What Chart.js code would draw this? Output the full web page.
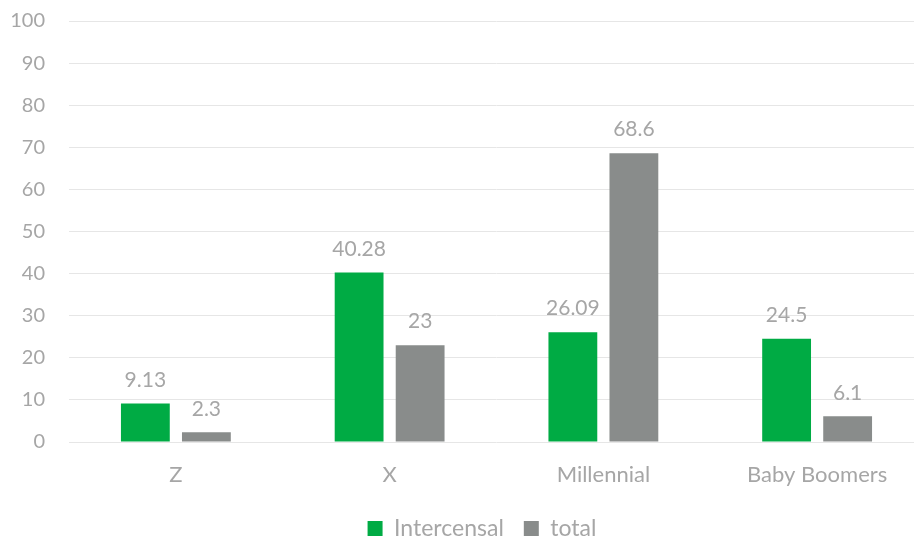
<!DOCTYPE html>
<html>
<head>
<meta charset="utf-8">
<script src="https://cdn.jsdelivr.net/npm/chart.js@4"></script>
<style>
  html, body { margin: 0; padding: 0; background: #fff; }
  #wrap { width: 914px; height: 538px; overflow: hidden; }
</style>
</head>
<body>
<div id="wrap"><canvas id="chart" width="924" height="538"></canvas></div>
<script>
// Data
const categories = ['Z', 'X', 'Millennial', 'Baby Boomers'];
const intercensal = [9.13, 40.28, 26.09, 24.5];
const total = [2.3, 23, 68.6, 6.1];
const yTicks = [0, 10, 20, 30, 40, 50, 60, 70, 80, 90, 100];

const textColor = '#a6a6a6';
const fontFamily = 'Lato, "Noto Sans", sans-serif';

// Draws value labels above every bar
const valueLabels = {
  id: 'valueLabels',
  afterDatasetsDraw(chart) {
    const ctx = chart.ctx;
    ctx.save();
    ctx.fillStyle = textColor;
    ctx.font = '21px ' + fontFamily;
    ctx.textAlign = 'center';
    ctx.textBaseline = 'bottom';
    chart.data.datasets.forEach((ds, i) => {
      chart.getDatasetMeta(i).data.forEach((bar, j) => {
        ctx.fillText(String(ds.data[j]), bar.x, bar.y - 13);
      });
    });
    ctx.restore();
  }
};

// nudge the legend a bit to the right, like the original
const legendShift = {
  id: 'legendShift',
  afterLayout(chart) {
    if (chart.legend) chart.legend.left += 40;
  }
};

new Chart(document.getElementById('chart').getContext('2d'), {
  type: 'bar',
  data: {
    labels: categories,
    datasets: [
      { label: 'Intercensal', data: intercensal, backgroundColor: '#00ab44' },
      { label: 'total', data: total, backgroundColor: '#898c8b' }
    ]
  },
  options: {
    responsive: false,
    animation: false,
    devicePixelRatio: 1,
    layout: { padding: { top: 0, right: 0, left: 0, bottom: -12 } },
    datasets: {
      bar: { categoryPercentage: 0.571, barPercentage: 0.8 }
    },
    scales: {
      x: {
        afterFit(axis) { axis.height = 55; },
        grid: { display: false },
        border: { display: false },
        ticks: { color: textColor, font: { size: 22, family: fontFamily }, padding: 12 }
      },
      y: {
        min: 0,
        max: 100,
        afterBuildTicks(axis) { axis.ticks = yTicks.map(v => ({ value: v })); },
        afterFit(axis) {
          axis.width = 69;
          axis.paddingTop = 21;
          axis.paddingBottom = 0;
        },
        grid: { color: '#e6e6e6', lineWidth: 1, drawTicks: false },
        border: { display: false },
        ticks: { color: textColor, font: { size: 20, family: fontFamily }, padding: 24 }
      }
    },
    plugins: {
      tooltip: { enabled: false },
      legend: {
        position: 'bottom',
        labels: {
          color: textColor,
          font: { size: 23, family: fontFamily },
          boxWidth: 15,
          boxHeight: 15,
          padding: 20
        }
      }
    }
  },
  plugins: [valueLabels, legendShift]
});
</script>
</body>
</html>
